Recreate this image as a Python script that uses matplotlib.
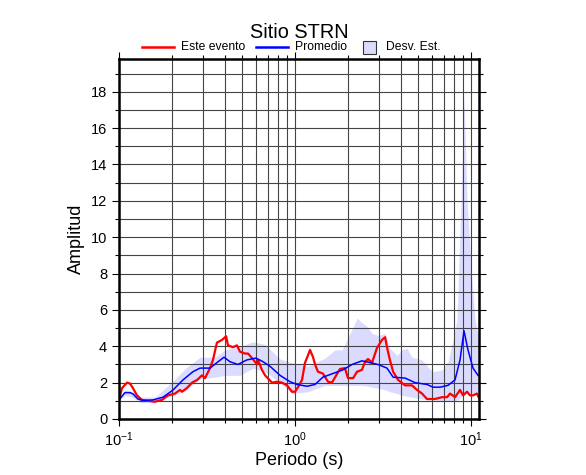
import numpy as np
import matplotlib.pyplot as plt
from matplotlib.lines import Line2D
from matplotlib.patches import Rectangle
from matplotlib.ticker import LogLocator, MultipleLocator, NullFormatter

plt.rcParams['font.family'] = ['Liberation Sans', 'DejaVu Sans']
plt.rcParams['mathtext.fontset'] = 'custom'
plt.rcParams['mathtext.rm'] = 'Liberation Sans'
plt.rcParams['mathtext.default'] = 'regular'

# Este evento (red)
ev_T = [0.100, 0.104, 0.111, 0.1155, 0.120, 0.1265, 0.135, 0.146, 0.160, 0.1755,
        0.190, 0.208, 0.222, 0.228, 0.243, 0.260, 0.278, 0.296, 0.308, 0.329,
        0.342, 0.360, 0.385, 0.406, 0.416, 0.444, 0.468, 0.487, 0.520, 0.541,
        0.570, 0.608, 0.616, 0.649, 0.676, 0.740, 0.790, 0.844, 0.901, 0.961,
        1.00, 1.04, 1.096, 1.14, 1.185, 1.217, 1.266, 1.30, 1.35, 1.44,
        1.54, 1.62, 1.69, 1.80, 1.92, 2.00, 2.14, 2.25, 2.40, 2.50,
        2.60, 2.74, 2.92, 3.12, 3.25, 3.33, 3.46, 3.61, 3.85, 4.22,
        4.62, 4.93, 5.27, 5.62, 6.24, 6.84, 7.31, 7.60, 8.11, 8.66,
        9.01, 9.49, 9.87, 10.26, 10.8, 11.1]
ev_A = [1.05, 1.7, 2.0, 1.95, 1.7, 1.3, 1.05, 1.0, 0.95, 1.05,
        1.3, 1.4, 1.6, 1.5, 1.7, 2.0, 2.15, 2.4, 2.25, 2.8,
        3.25, 4.2, 4.35, 4.55, 4.05, 3.95, 4.05, 3.7, 3.6, 3.6,
        3.35, 3.0, 3.25, 2.7, 2.4, 2.0, 2.05, 2.0, 1.85, 1.5,
        1.5, 1.75, 2.15, 3.1, 3.5, 3.8, 3.4, 3.0, 2.6, 2.5,
        2.05, 2.0, 2.3, 2.75, 2.8, 2.25, 2.25, 2.6, 2.7, 3.15,
        3.3, 3.1, 3.9, 4.35, 4.5, 3.95, 3.25, 2.6, 2.15, 1.85,
        1.85, 1.6, 1.4, 1.1, 1.1, 1.2, 1.2, 1.4, 1.2, 1.6,
        1.3, 1.5, 1.3, 1.3, 1.4, 1.15]

# Promedio (blue)
avg_T = [0.100, 0.108, 0.1155, 0.120, 0.128, 0.137, 0.156, 0.178, 0.203, 0.231,
         0.263, 0.289, 0.329, 0.360, 0.395, 0.427, 0.474, 0.533, 0.600, 0.658,
         0.721, 0.822, 0.937, 1.026, 1.17, 1.30, 1.44, 1.64, 1.87, 2.11,
         2.40, 2.67, 2.96, 3.33, 3.61, 4.22, 4.81, 5.62, 6.08, 6.67,
         7.40, 8.11, 8.66, 9.12, 9.61, 10.26, 10.96]
avg_A = [1.05, 1.45, 1.45, 1.38, 1.1, 1.02, 1.05, 1.2, 1.6, 2.15,
         2.6, 2.8, 2.8, 3.1, 3.4, 3.15, 3.0, 3.25, 3.35, 3.15,
         2.9, 2.4, 2.05, 1.9, 1.8, 1.9, 2.3, 2.5, 2.7, 3.0,
         3.2, 3.1, 3.0, 2.8, 2.3, 2.25, 2.0, 1.9, 1.75, 1.75,
         1.85, 2.15, 3.25, 4.85, 3.8, 2.8, 2.4]

# Desv. Est. band
sd_T = [0.100, 0.108, 0.119, 0.132, 0.160, 0.183, 0.208, 0.243, 0.289, 0.351,
        0.400, 0.487, 0.577, 0.676, 0.822, 0.961, 1.185, 1.48, 1.69, 1.85,
        2.00, 2.14, 2.25, 2.40, 2.60, 2.74, 2.96, 3.25, 3.46, 3.80,
        4.05, 4.33, 4.62, 5.27, 5.70, 6.08, 6.84, 7.40, 7.90, 8.32,
        8.77, 9.12, 9.49, 10.13, 10.54, 11.1]
sd_hi = [1.2, 1.6, 1.5, 1.2, 1.2, 1.7, 2.2, 2.85, 3.4, 3.4,
         3.8, 4.0, 4.25, 4.1, 3.3, 3.1, 2.9, 3.35, 3.8, 3.8,
         4.5, 5.05, 5.55, 5.3, 5.05, 4.7, 4.6, 4.7, 3.9, 3.5,
         3.8, 3.9, 3.4, 3.25, 2.85, 2.6, 2.7, 3.15, 4.35, 5.45,
         12.0, 17.8, 12.0, 7.6, 5.45, 4.35]
sd_lo = [1.0, 1.3, 1.2, 0.9, 0.9, 1.15, 1.3, 1.6, 2.2, 2.3,
         2.4, 2.4, 2.8, 2.6, 2.0, 1.4, 1.5, 1.85, 1.85, 1.85,
         1.85, 1.85, 1.85, 1.85, 1.8, 1.75, 1.7, 1.6, 1.5, 1.4,
         1.3, 1.25, 1.2, 1.1, 1.05, 1.05, 1.0, 0.95, 1.0, 1.05,
         1.2, 1.3, 1.4, 1.4, 1.45, 1.5]

fig = plt.figure(figsize=(5.86, 4.75), dpi=100)
ax = fig.add_axes([119/586, 1-419/475, 360/586, 360/475])

band_col = (0.86, 0.86, 1.0)
ax.fill_between(sd_T, sd_lo, sd_hi, color=band_col, lw=0, zorder=1)
ax.plot(avg_T, avg_A, color='#0000ff', lw=1.1, zorder=4)
ax.plot(ev_T, ev_A, color='#ff0000', lw=1.6, zorder=3)

ax.set_xscale('log')
ax.set_xlim(0.1, 11.1)
ax.set_ylim(0, 19.8)

ax.xaxis.set_major_locator(LogLocator(base=10))
ax.xaxis.set_minor_locator(LogLocator(base=10, subs=np.arange(2, 10)))
ax.xaxis.set_minor_formatter(NullFormatter())
ax.yaxis.set_major_locator(MultipleLocator(2))
ax.yaxis.set_minor_locator(MultipleLocator(1))

ax.grid(True, which='both', color='#444444', lw=0.8, zorder=2)
ax.set_axisbelow(False)
for l in ax.get_xgridlines() + ax.get_ygridlines():
    l.set_zorder(2)

ax.tick_params(which='both', direction='out', top=True, right=True, labelsize=10.5, width=0.8)
ax.tick_params(which='major', length=5)
ax.tick_params(which='minor', length=3)
for s in ax.spines.values():
    s.set_linewidth(1.8)
    s.set_zorder(6)

ax.set_xlabel('Periodo (s)', fontsize=13, labelpad=2)
ax.set_ylabel('Amplitud', fontsize=13, labelpad=4)
fig.text(299/586, 1-33/475, 'Sitio STRN', fontsize=14.3, ha='center', va='center')

# legend drawn by hand above the axes
ly = 1 - 47/475
fig.add_artist(Line2D([142/586, 174/586], [ly, ly], color='#ff0000', lw=1.8))
fig.text(181/586, ly, 'Este evento', fontsize=8.7, va='center')
fig.add_artist(Line2D([256/586, 288/586], [ly, ly], color='#0000ff', lw=1.8))
fig.text(295/586, ly, 'Promedio', fontsize=8.7, va='center')
fig.add_artist(Rectangle((363/586, 1-54/475), 13/586, 13/475, facecolor=band_col,
                         edgecolor='#333333', lw=0.8))
fig.text(386/586, ly, 'Desv. Est.', fontsize=8.7, va='center')

fig.savefig('out.png', dpi=100)
